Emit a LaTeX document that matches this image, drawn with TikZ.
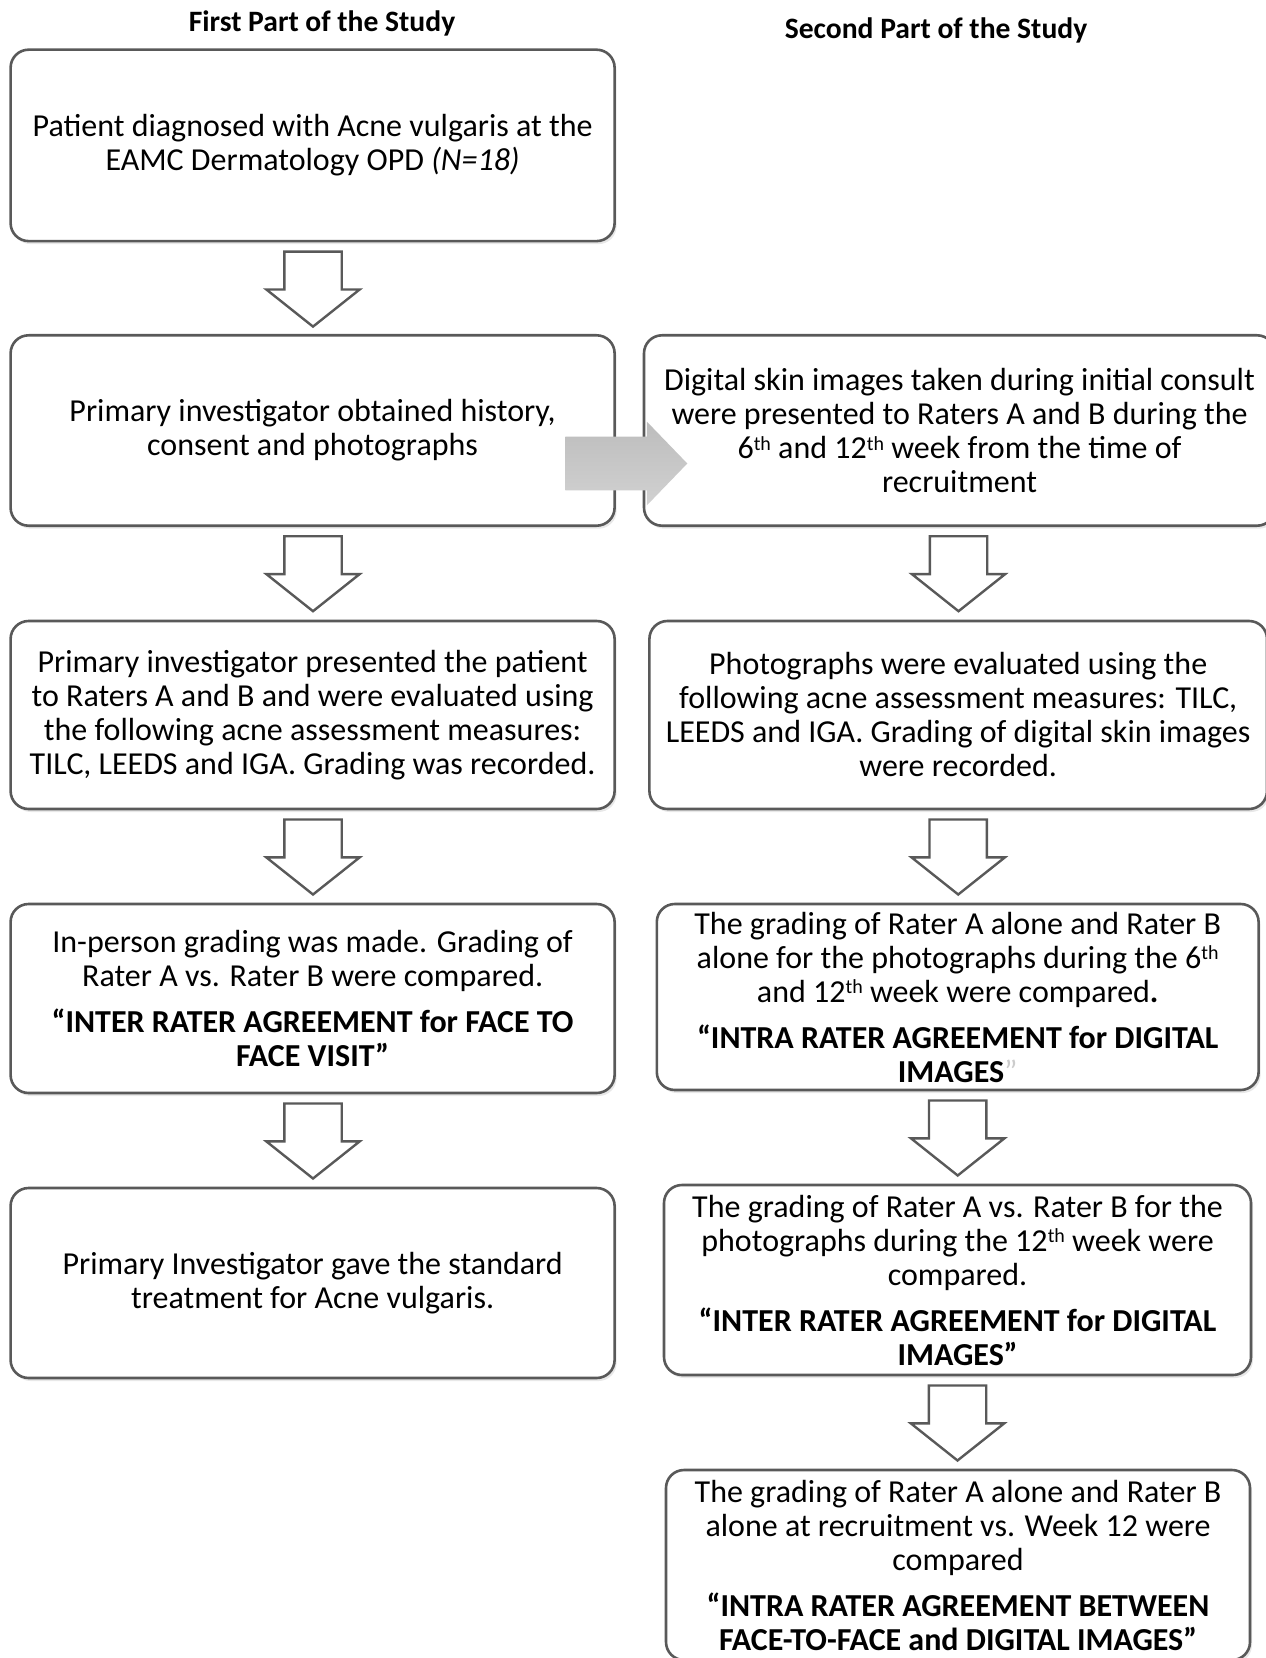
\documentclass[tikz,border=0pt]{standalone}
\usepackage{fontspec}
\setmainfont{Carlito}
\usepackage{xcolor}
\usepackage{tikz}
\usetikzlibrary{shapes.arrows, positioning, calc, shadows}

\newcommand{\ord}[1]{\raisebox{0.55ex}{\fontsize{10}{10}\selectfont #1}}

\begin{document}
\begin{tikzpicture}[
  x=1pt, y=-1pt,
  every node/.style={font=\fontsize{16}{17}\selectfont},
  box/.style={rectangle, draw=black!65, line width=1.3pt, rounded corners=9pt, fill=white, align=center, inner sep=2pt,
    drop shadow={shadow xshift=1pt, shadow yshift=-1.5pt, opacity=0.18}},
  lbox/.style={box, minimum width=302pt},
  heading/.style={font=\fontsize{14.8}{16}\selectfont\bfseries},
  blockdown/.style={single arrow, draw=black!65, line width=1.2pt, fill=white, rotate=-90, anchor=tail,
    minimum height=37.5pt, inner xsep=0pt, inner ysep=13.75pt, single arrow head extend=9pt, single arrow tip angle=103},
  crossarrow/.style={single arrow, draw=none, top color=black!26, bottom color=black!18,
    minimum height=61pt, inner xsep=0pt, inner ysep=13.25pt, single arrow head extend=7.5pt, single arrow tip angle=92}
]
\useasboundingbox (0,0) rectangle (632.5,829);

% Column titles
\node[heading] (first) at (161,11.5) {First Part of the Study};
\node[heading] (second) at (468,15) {Second Part of the Study};

% First part
\node[lbox, minimum height=95.7pt] (diag) at (156.3,72.7) {Patient diagnosed with Acne vulgaris at the\\EAMC Dermatology OPD \textit{(N=18)}};
\node[lbox, minimum height=95.2pt] (hist) at (156.3,215.25) {Primary investigator obtained history,\\consent and photographs};
\node[lbox, minimum height=94pt] (eval) at (156.3,357.5) {Primary investigator presented the patient\\to Raters A and B and were evaluated using\\the following acne assessment measures:\\TILC, LEEDS and IGA. Grading was recorded.};
\node[lbox, minimum height=94.5pt] (inperson) at (156.3,499.25) {In-person grading was made. Grading of\\Rater A vs. Rater B were compared.\\[6pt]\textbf{“INTER RATER AGREEMENT for FACE TO}\\\textbf{FACE VISIT”}};
\node[lbox, minimum height=95pt] (treat) at (156.3,641.5) {Primary Investigator gave the standard\\treatment for Acne vulgaris.};

% Second part
\node[box, minimum width=315.5pt, minimum height=95.2pt] (digital) at (479.75,215.25) {Digital skin images taken during initial consult\\were presented to Raters A and B during the\\6\ord{th} and 12\ord{th} week from the time of\\recruitment};
\node[box, minimum width=308.8pt, minimum height=94pt] (photos) at (479.1,357.5) {Photographs were evaluated using the\\following acne assessment measures: TILC,\\LEEDS and IGA. Grading of digital skin images\\were recorded.};
\node[box, minimum width=300.9pt, minimum height=93pt] (intra) at (478.85,498.5) {The grading of Rater A alone and Rater B\\alone for the photographs during the 6\ord{th}\\and 12\ord{th} week were compared\textbf{.}\\[6pt]\textbf{“INTRA RATER AGREEMENT for DIGITAL}\\\textbf{IMAGES}{\color{black!20}”}};
\node[box, minimum width=293.5pt, minimum height=95pt] (inter) at (478.75,640) {The grading of Rater A vs. Rater B for the\\photographs during the 12\ord{th} week were\\compared.\\[6pt]\textbf{“INTER RATER AGREEMENT for DIGITAL}\\\textbf{IMAGES”}};
\node[box, minimum width=292pt, minimum height=95pt] (between) at (479,782.5) {The grading of Rater A alone and Rater B\\alone at recruitment vs. Week 12 were\\compared\\[6pt]\textbf{“INTRA RATER AGREEMENT BETWEEN}\\\textbf{FACE-TO-FACE and DIGITAL IMAGES”}};

% Block arrows
\node[blockdown] (a1) at ($(diag.south)+(0.2,4)$) {};
\node[blockdown] (a2) at ($(hist.south)+(0.2,4)$) {};
\node[blockdown] (a3) at ($(eval.south)+(0.2,4)$) {};
\node[blockdown] (a4) at ($(inperson.south)+(0.2,4)$) {};
\node[blockdown] (b1) at ($(digital.south)+(-0.5,4)$) {};
\node[blockdown] (b2) at ($(photos.south)+(0,4)$) {};
\node[blockdown] (b3) at ($(intra.south)+(0,4)$) {};
\node[blockdown] (b4) at ($(inter.south)+(0,4)$) {};
\node[crossarrow] (link) at ($(hist.east)!0.5!(digital.west)+(-8,16.5)$) {};
\end{tikzpicture}
\end{document}
